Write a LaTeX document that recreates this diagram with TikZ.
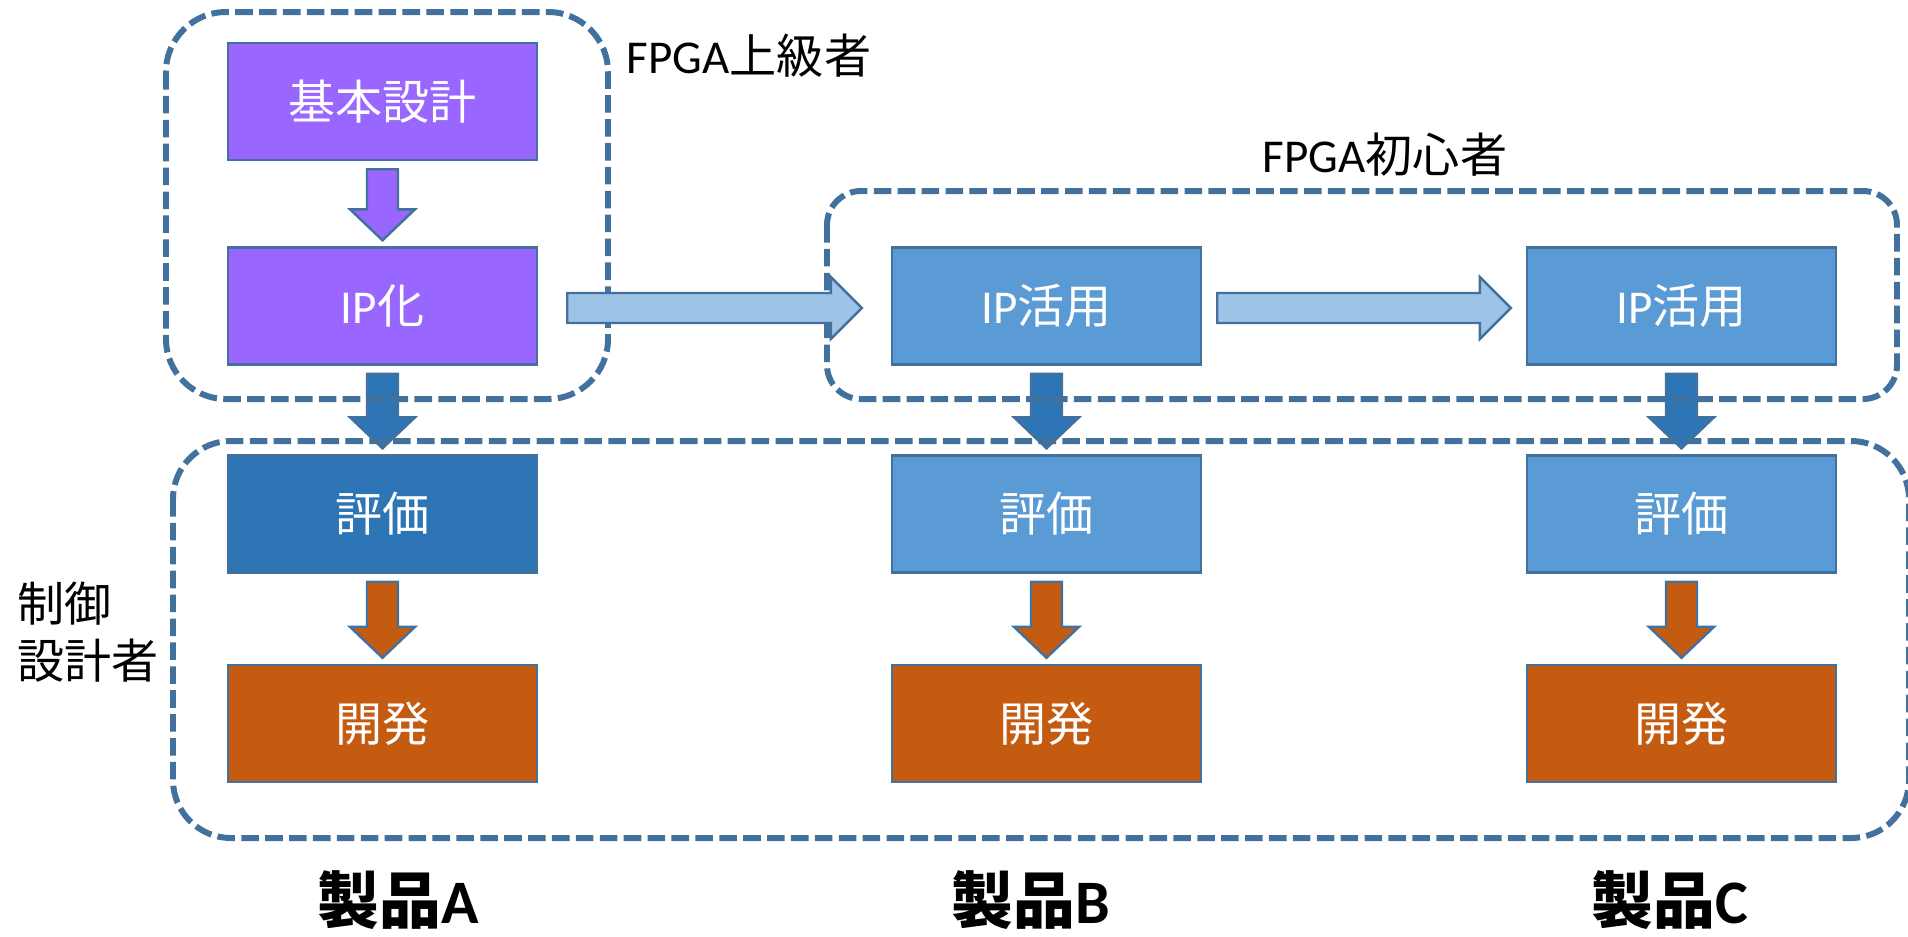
\documentclass[tikz,border=0pt]{standalone}
\usepackage{fontspec}
\setmainfont{Carlito}
\newfontfamily\jp{Noto Sans CJK JP}
\usepackage{tikz}
\usepackage{xcolor}

\definecolor{edge}{HTML}{41719C}
\definecolor{purp}{HTML}{9966FF}
\definecolor{deepblue}{HTML}{2E75B6}
\definecolor{midblue}{HTML}{5B9BD5}
\definecolor{paleblue}{HTML}{9DC3E6}
\definecolor{rust}{HTML}{C55A11}

\tikzset{
  stepbox/.style={draw=edge, line width=0.7pt, minimum width=3.09cm, minimum height=1.17cm, inner sep=0pt, text=white},
  arrowbody/.style={draw=edge, line width=0.7pt},
  frame/.style={draw=edge, line width=1.7pt, dash pattern=on 5pt off 1.8pt},
  prod/.style={inner sep=0pt, font=\bfseries\fontsize{17.6}{20}\selectfont},
  blockdown/.style={arrowbody, to path={
    ([shift={(-15.5,8)}]\tikztostart.south) -- ([shift={(-15.5,-37)}]\tikztotarget.north)
    -- ([shift={(-32.5,-37)}]\tikztotarget.north) -- ([shift={(0,-6)}]\tikztotarget.north)
    -- ([shift={(32.5,-37)}]\tikztotarget.north) -- ([shift={(15.5,-37)}]\tikztotarget.north)
    -- ([shift={(15.5,8)}]\tikztostart.south) -- cycle}},
  blockright/.style={arrowbody, to path={
    ([shift={(#1,-13)}]\tikztostart.east) -- ([shift={(-#1-31,-13)}]\tikztotarget.west)
    -- ([shift={(-#1-31,-29)}]\tikztotarget.west) -- ([shift={(-#1,2)}]\tikztotarget.west)
    -- ([shift={(-#1-31,33)}]\tikztotarget.west) -- ([shift={(-#1-31,17)}]\tikztotarget.west)
    -- ([shift={(#1,17)}]\tikztostart.east) -- cycle}}
}

\begin{document}
\begin{tikzpicture}[x=0.1mm, y=-0.1mm, font=\fontsize{13.4}{16.2}\selectfont]
  \clip (0,0) rectangle (1908,936);

  \node[stepbox, fill=purp] (base) at (382.5,101.5) {\jp 基本設計};
  \node[stepbox, fill=purp] (ipA) at (382.5,306) {IP{\jp 化}};
  \node[stepbox, fill=midblue] (ipB) at (1046.5,306) {IP{\jp 活用}};
  \node[stepbox, fill=midblue] (ipC) at (1681.5,306) {IP{\jp 活用}};
  \node[stepbox, fill=deepblue] (evA) at (382.5,514) {\jp 評価};
  \node[stepbox, fill=midblue] (evB) at (1046.5,514) {\jp 評価};
  \node[stepbox, fill=midblue] (evC) at (1681.5,514) {\jp 評価};
  \node[stepbox, fill=rust] (devA) at (382.5,723.5) {\jp 開発};
  \node[stepbox, fill=rust] (devB) at (1046.5,723.5) {\jp 開発};
  \node[stepbox, fill=rust] (devC) at (1681.5,723.5) {\jp 開発};

  \draw[blockdown, fill=purp] (base) to (ipA);
  \draw[blockdown, fill=deepblue] (ipA) to (evA);
  \draw[blockdown, fill=deepblue] (ipB) to (evB);
  \draw[blockdown, fill=deepblue] (ipC) to (evC);
  \draw[blockdown, fill=rust] (evA) to (devA);
  \draw[blockdown, fill=rust] (evB) to (devB);
  \draw[blockdown, fill=rust] (evC) to (devC);

  \draw[frame, rounded corners=6mm] (166,12) rectangle (608,399);
  \draw[frame, rounded corners=3.4mm] (827,191) rectangle (1897,399);
  \draw[frame, rounded corners=5.8mm] (173,441) rectangle (1909,838);

  \draw[blockright=29, fill=paleblue] (ipA) to (ipB);
  \draw[blockright=15, fill=paleblue] (ipB) to (ipC);

  \node (senior) at (749,56) {FPGA{\jp 上級者}};
  \node (novice) at (1385,155) {FPGA{\jp 初心者}};
  \node[font=\jp\fontsize{13.4}{16.2}\selectfont, align=left, anchor=west, inner sep=0pt] (ctrl) at (17,632) {制御\\設計者};
  \node[prod] (prodA) at (398,900) {{\jp 製品}A};
  \node[prod] (prodB) at (1031,900) {{\jp 製品}B};
  \node[prod] (prodC) at (1670,900) {{\jp 製品}C};
\end{tikzpicture}
\end{document}
